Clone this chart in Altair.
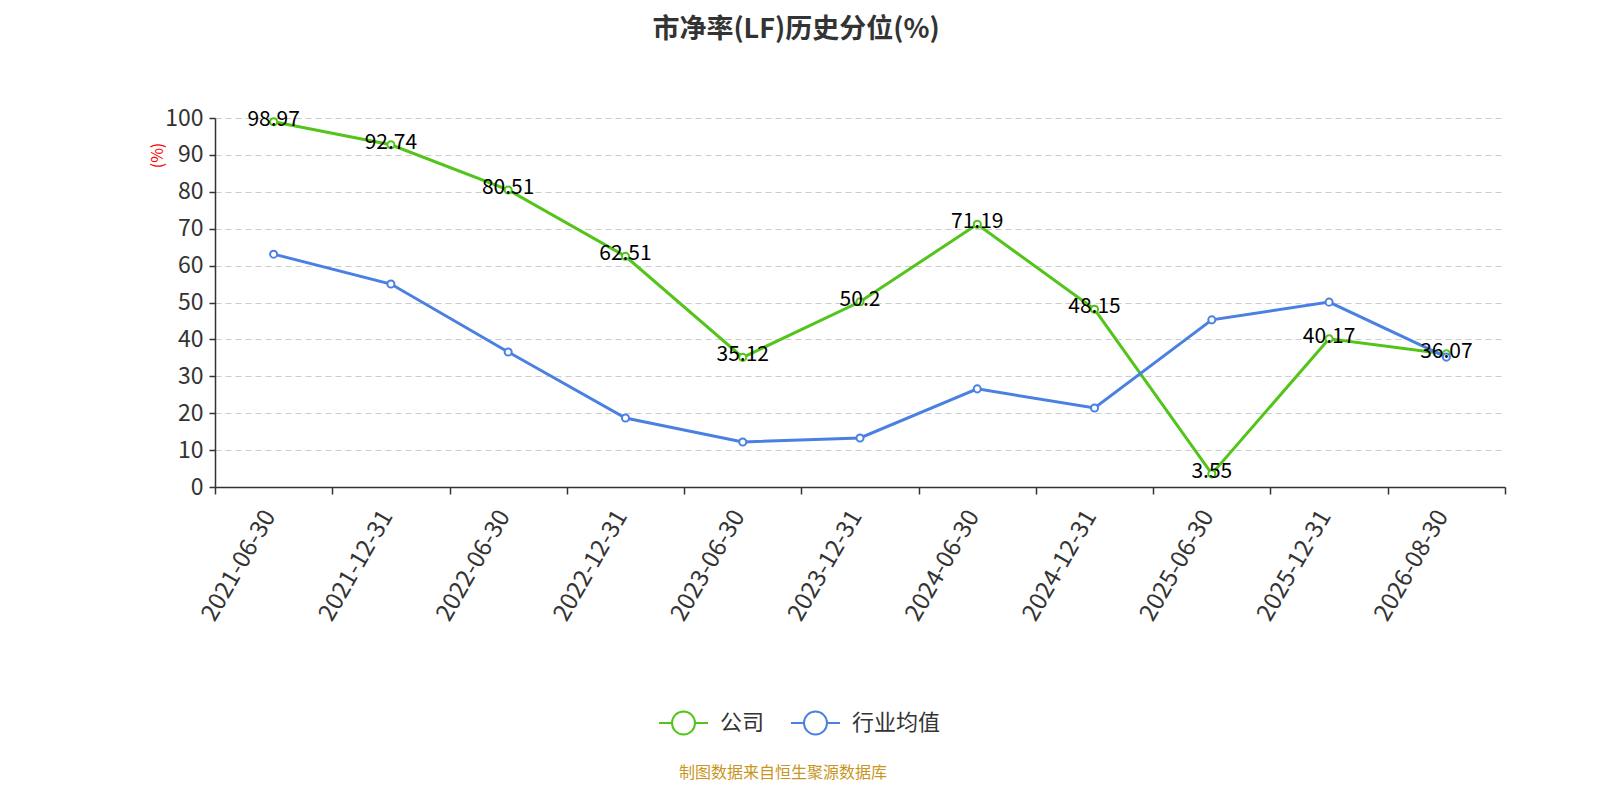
import altair as alt
import pandas as pd

# chart values
dates = ["2021-06-30", "2021-12-31", "2022-06-30", "2022-12-31", "2023-06-30",
         "2023-12-31", "2024-06-30", "2024-12-31", "2025-06-30", "2025-12-31",
         "2026-08-30"]
company = [98.97, 92.74, 80.51, 62.51, 35.12, 50.2, 71.19, 48.15, 3.55, 40.17, 36.07]
industry = [63.1, 55.0, 36.6, 18.7, 12.2, 13.3, 26.6, 21.4, 45.3, 50.1, 35.2]
series = ["公司", "行业均值"]
colors = ["#52c41a", "#4a80e2"]
y_ticks = [0, 10, 20, 30, 40, 50, 60, 70, 80, 90, 100]

title_text = "市净率(LF)历史分位(%)"
source_text = "制图数据来自恒生聚源数据库"

df = pd.DataFrame({
    "date": dates * 2,
    "value": company + industry,
    "series": [series[0]] * len(dates) + [series[1]] * len(dates),
    "order": [0] * len(dates) + [1] * len(dates),
})

FONT = "Noto Sans CJK SC"
W, H = 1290, 369

x = alt.X("date:N", sort=dates, title=None,
          scale=alt.Scale(paddingInner=0, paddingOuter=0),
          axis=alt.Axis(labelAngle=-60, labelFontSize=24, labelColor="#333",
                        labelFont=FONT, domainColor="#333", domainWidth=1.5,
                        tickColor="#333", tickWidth=1.5, tickSize=7,
                        tickBand="extent", labelPadding=18, labelOffset=-4,
                        grid=False))
y = alt.Y("value:Q", title="(%)",
          scale=alt.Scale(domain=[0, 100], nice=False),
          axis=alt.Axis(values=y_ticks, labelFontSize=23, labelColor="#333",
                        labelFont=FONT, domainColor="#333", domainWidth=1.5,
                        tickColor="#333", tickWidth=1.5, tickSize=6,
                        labelPadding=6, grid=True, gridColor="#cccccc",
                        gridDash=[6, 4], gridWidth=1.2,
                        titleColor="red", titleFontSize=16, titleFont=FONT,
                        titleFontWeight="normal", titleAngle=-90,
                        titleX=-58, titleY=37, titleAlign="center",
                        titleBaseline="middle"))
color = alt.Color("series:N", sort=series,
                  scale=alt.Scale(domain=series, range=colors),
                  legend=alt.Legend(
                      title=None, orient="none", direction="horizontal",
                      legendX=443, legendY=579, padding=0,
                      symbolType="M-1,0L-0.47,0M0.47,0L1,0M-0.47,0A0.47,0.47 0 1,1 0.47,0A0.47,0.47 0 1,1 -0.47,0",
                      symbolSize=2400, symbolStrokeWidth=2,
                      symbolFillColor="#ffffff",
                      labelFontSize=22, labelColor="#333", labelFont=FONT,
                      labelOffset=11, columnPadding=22))

base = alt.Chart(df)

lines = base.mark_line(strokeWidth=3).encode(x=x, y=y, color=color, order="order:Q")
points = base.mark_point(filled=True, fill="white", size=50, strokeWidth=2,
                         opacity=1).encode(x=x, y=y, stroke=alt.Stroke("series:N", sort=series,
                                                                        scale=alt.Scale(domain=series, range=colors),
                                                                        legend=None))
labels = base.transform_filter(alt.datum.series == series[0]).mark_text(
    fontSize=21, font=FONT, color="black", dy=-2, baseline="middle"
).encode(x=x, y=y, text=alt.Text("value:Q"))

title = alt.Chart(pd.DataFrame({"t": [title_text]})).mark_text(
    fontSize=27, fontWeight="bold", font=FONT, color="#333", baseline="middle"
).encode(x=alt.value(581), y=alt.value(-88), text="t:N")

source = alt.Chart(pd.DataFrame({"t": [source_text]})).mark_text(
    fontSize=16, font=FONT, color="#c8961e", baseline="middle"
).encode(x=alt.value(568), y=alt.value(655), text="t:N")

chart = alt.layer(lines, points, labels, title, source).properties(
    width=W, height=H,
    autosize=alt.AutoSizeParams(type="none"),
    padding={"left": 207, "top": 110, "right": 87, "bottom": 305},
    background="white",
).configure_view(stroke=None)

chart.save("out.html", embed_options={"renderer": "svg", "actions": False})
